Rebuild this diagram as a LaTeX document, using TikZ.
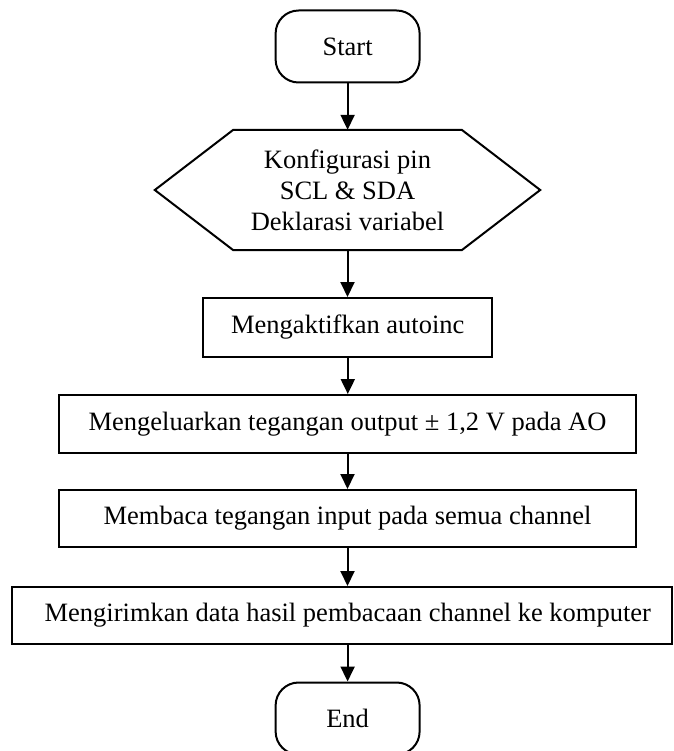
\documentclass[tikz,border=0pt]{standalone}
\usepackage{fontspec}
\setmainfont{Liberation Serif}
\usetikzlibrary{arrows.meta}
\tikzset{
  txt/.style={font=\fontsize{26.5pt}{31pt}\selectfont, align=center, inner sep=0pt},
  term/.style={txt, draw, line width=2pt, rounded corners=23pt, minimum width=144pt, minimum height=72pt},
  procbox/.style={txt, draw, line width=2pt, minimum height=58pt},
  hexbox/.style={txt, minimum width=385pt, minimum height=120pt},
  flow/.style={line width=2pt, -{Triangle[length=15pt,width=14pt]}}
}
\begin{document}
\begin{tikzpicture}[x=1pt,y=-1pt]
\useasboundingbox (0,0) rectangle (673,751);
\node[term] (start) at (347.6,46.5) {Start};
\node[hexbox] (hex) at (347.5,190) {Konfigurasi pin\\SCL \& SDA\\Deklarasi variabel};
\draw[line width=2pt, line join=miter] ([xshift=78.5pt]hex.north west) -- ([xshift=-78.5pt]hex.north east) -- (hex.east) -- ([xshift=-78.5pt]hex.south east) -- ([xshift=78.5pt]hex.south west) -- (hex.west) -- cycle;
\node[procbox, minimum width=289pt, minimum height=59pt] (b1) at (347.8,327.5) {Mengaktifkan autoinc};
\node[procbox, minimum width=577pt] (b2) at (347.5,424) {Mengeluarkan tegangan output ± 1,2 V pada AO};
\node[procbox, minimum width=577pt, minimum height=57pt] (b3) at (347.5,518.5) {Membaca tegangan input pada semua channel};
\node[procbox, minimum width=660.5pt, minimum height=56.6pt] (b4) at (341.8,615.3) {\hspace*{12pt}Mengirimkan data hasil pembacaan channel ke komputer};
\node[term] (end) at (347.6,718.5) {End};
\draw[flow] (start.south) -- (start.south |- hex.north);
\draw[flow] (hex.south) -- (hex.south |- b1.north);
\draw[flow] (b1.south) -- (b1.south |- b2.north);
\draw[flow] (b2.south) -- (b2.south |- b3.north);
\draw[flow] (b3.south) -- (b3.south |- b4.north);
\draw[flow] (b4.south -| end.north) -- (end.north);
\end{tikzpicture}
\end{document}
